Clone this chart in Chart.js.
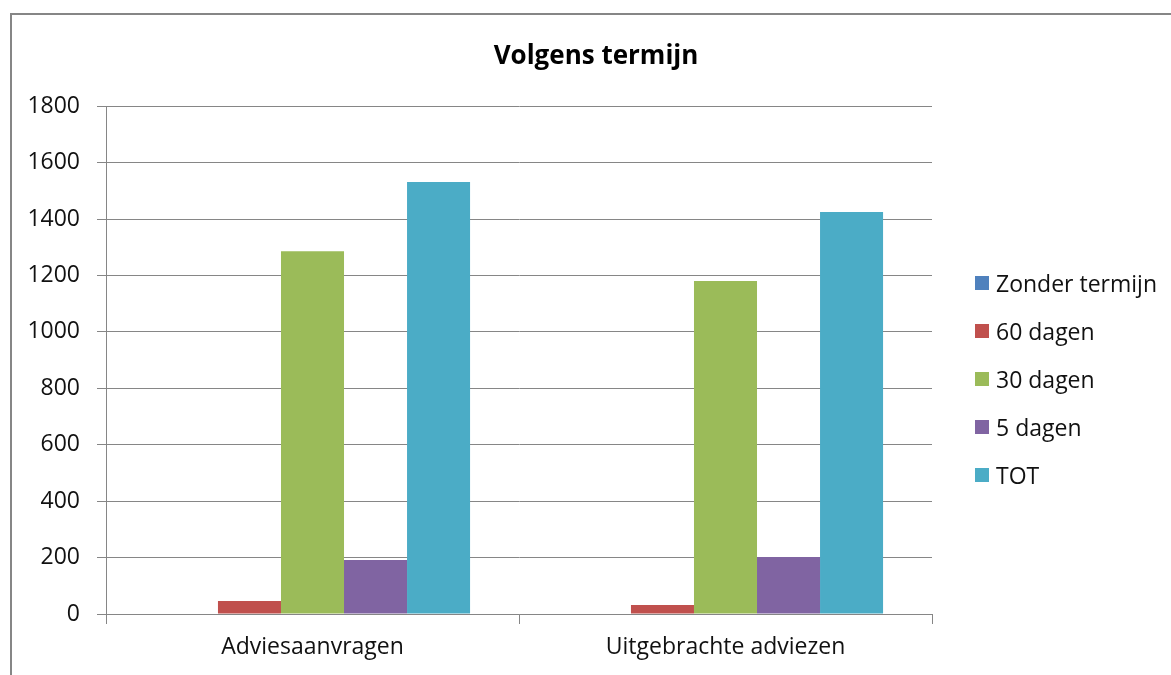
<!DOCTYPE html>
<html>
<head>
<meta charset="utf-8">
<script src="https://cdn.jsdelivr.net/npm/chart.js@4/dist/chart.umd.min.js"></script>
<style>
  html, body { margin: 0; padding: 0; background: #fff; overflow: hidden; width: 1171px; height: 675px; }
  #frame { position: absolute; left: 10px; top: 13px; width: 1172px; height: 672px;
           border-left: 2px solid #868686; border-top: 2px solid #868686; box-sizing: border-box; }
  #wrap { position: absolute; left: 10px; top: 13px; width: 1172px; height: 662px; }
  #legend { position: absolute; left: 975px; top: 259px; font-family: "Open Sans", sans-serif; font-size: 23px; color: #111; }
  .item { display: flex; align-items: center; height: 48px; }
  .box { width: 14px; height: 14px; margin-right: 7px; }
</style>
</head>
<body>
<div id="frame"></div>
<div id="wrap"><canvas id="c" width="1172" height="662"></canvas></div>
<div id="legend"></div>
<script>
const categories = ["Adviesaanvragen", "Uitgebrachte adviezen"];
const seriesNames = ["Zonder termijn", "60 dagen", "30 dagen", "5 dagen", "TOT"];
const zonderTermijn = [0, 0];
const dagen60 = [46, 32];
const dagen30 = [1286, 1180];
const dagen5 = [191, 202];
const tot = [1531, 1425];
const yTicks = [0, 200, 400, 600, 800, 1000, 1200, 1400, 1600, 1800];
const colors = ["#4F81BD", "#C0504D", "#9BBB59", "#8064A2", "#4BACC6"];

const seriesValues = [zonderTermijn, dagen60, dagen30, dagen5, tot];
const datasets = seriesNames.map((n, i) => ({
  label: n, data: seriesValues[i], backgroundColor: colors[i], borderWidth: 0,
  categoryPercentage: 0.763, barPercentage: 1.0
}));

const gridColor = "#868686";
const FONT = "Open Sans";
new Chart(document.getElementById("c"), {
  type: "bar",
  data: { labels: categories, datasets },
  options: {
    responsive: false, animation: false,
    layout: { padding: 0 },
    plugins: {
      legend: { display: false },
      tooltip: { enabled: false },
      title: { display: true, text: "Volgens termijn", color: "#000",
        font: { family: FONT, size: 26, weight: "bold" },
        padding: { top: 28, bottom: 34 } }
    },
    scales: {
      x: {
        grid: { offset: true, drawOnChartArea: false, drawTicks: true, tickLength: 10, color: gridColor, lineWidth: 1 },
        border: { color: gridColor, width: 1 },
        ticks: { color: "#111", font: { family: FONT, size: 23 }, padding: 10 },
        afterFit: s => { s.height = 61; }
      },
      y: {
        min: 0, max: 1800,
        afterBuildTicks: s => { s.ticks = yTicks.map(v => ({ value: v })); },
        grid: { color: gridColor, lineWidth: 1, tickLength: 9 },
        border: { color: gridColor, width: 1 },
        ticks: { color: "#111", font: { family: FONT, size: 23 }, padding: 17, callback: v => String(v) },
        afterFit: s => { s.width = 96; }
      },
      yRight: {
        position: "right", display: true,
        grid: { display: false, drawTicks: false }, border: { display: false },
        ticks: { display: false },
        afterFit: s => { s.width = 250; }
      }
    }
  }
});

const lg = document.getElementById("legend");
seriesNames.forEach((n, i) => {
  const d = document.createElement("div"); d.className = "item";
  const b = document.createElement("div"); b.className = "box"; b.style.background = colors[i];
  const t = document.createElement("span"); t.textContent = n;
  d.appendChild(b); d.appendChild(t); lg.appendChild(d);
});
</script>
</body>
</html>
